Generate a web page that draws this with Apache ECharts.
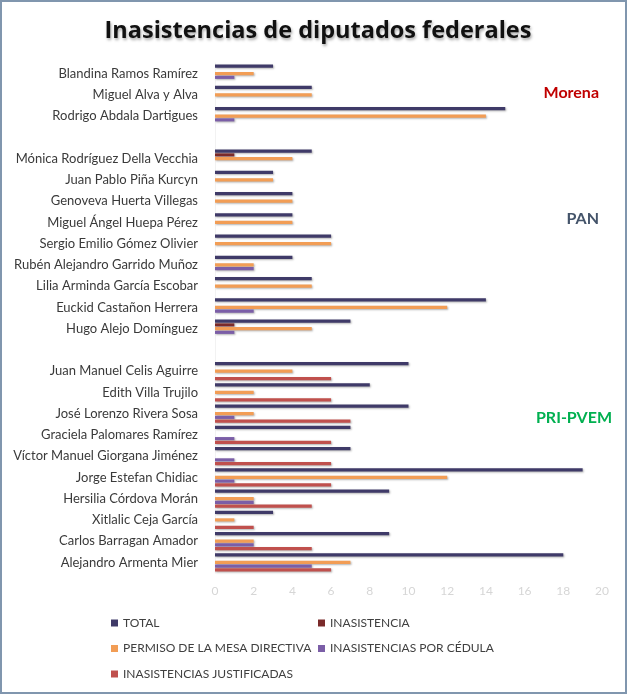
<!DOCTYPE html>
<html><head><meta charset="utf-8">
<script src="https://cdn.jsdelivr.net/npm/echarts@6/dist/echarts.min.js"></script>
<style>html,body{margin:0;padding:0;background:#fff}#c{width:640px;height:696px}</style>
</head><body><div id="c"></div>
<script>
const categories = [
  'Blandina Ramos Ramírez','Miguel Alva y Alva','Rodrigo Abdala Dartigues','',
  'Mónica Rodríguez Della Vecchia','Juan Pablo Piña Kurcyn','Genoveva Huerta Villegas','Miguel Ángel Huepa Pérez',
  'Sergio Emilio Gómez Olivier','Rubén Alejandro Garrido Muñoz','Lilia Arminda García Escobar','Euckid Castañon Herrera',
  'Hugo Alejo Domínguez',' ',
  'Juan Manuel Celis Aguirre','Edith Villa Trujilo','José Lorenzo Rivera Sosa','Graciela Palomares Ramírez',
  'Víctor Manuel Giorgana Jiménez','Jorge Estefan Chidiac','Hersilia Córdova Morán','Xitlalic Ceja García',
  'Carlos Barragan Amador','Alejandro Armenta Mier'
];
const total        = [3,5,15,null, 5,3,4,4,6,4,5,14,7,null, 10,8,10,7,7,19,9,3,9,18];
const inasistencia = [null,null,null,null, 1,null,null,null,null,null,null,null,1,null, null,null,null,null,null,null,null,null,null,null];
const permiso      = [2,5,14,null, 4,3,4,4,6,2,5,12,5,null, 4,2,2,null,null,12,2,1,2,7];
const cedula       = [1,null,1,null, null,null,null,null,null,2,null,2,1,null, null,null,1,1,1,1,2,null,2,5];
const justificadas = [null,null,null,null, null,null,null,null,null,null,null,null,null,null, 6,6,7,6,6,6,5,2,5,6];
const xTicks = [0,2,4,6,8,10,12,14,16,18,20];

const seriesNames = ['TOTAL','INASISTENCIA','PERMISO DE LA MESA DIRECTIVA','INASISTENCIAS POR CÉDULA','INASISTENCIAS JUSTIFICADAS'];
const seriesData = [total, inasistencia, permiso, cedula, justificadas];
const colors = ['#3f3a68','#7a2a2a','#f29d55','#7b5ea7','#c0504d'];

const chart = echarts.init(document.getElementById('c'));
const legendText = {color:'#404040', fontSize:12, fontFamily:'Lato'};
chart.setOption({
  animation:false,
  title:{
    text:'Inasistencias de diputados federales', left:313, top:14, textAlign:'center',
    textStyle:{fontFamily:'Open Sans', fontWeight:'bold', fontSize:23.5, color:'#111',
      textShadowColor:'rgba(0,0,0,0.35)', textShadowBlur:3, textShadowOffsetX:1, textShadowOffsetY:2}
  },
  grid:{left:215, right:38, top:63, height:510, containLabel:false},
  xAxis:{type:'value', min:xTicks[0], max:xTicks[xTicks.length-1], interval:2,
    axisLine:{show:false}, axisTick:{show:false}, splitLine:{show:false},
    axisLabel:{color:'#d6d6d6', fontSize:12, fontFamily:'Lato', margin:12}},
  yAxis:{type:'category', data:categories, inverse:true,
    axisLine:{show:true, lineStyle:{color:'#f2f2f2'}}, axisTick:{show:false},
    axisLabel:{color:'#3a3a3a', fontSize:13, fontFamily:'Lato', margin:17}},
  legend:[
    {left:106, top:612, orient:'vertical', itemGap:13.5, itemWidth:7, itemHeight:7, icon:'rect',
     data:[seriesNames[0],seriesNames[2],seriesNames[4]], textStyle:legendText},
    {left:313, top:612, orient:'vertical', itemGap:13.5, itemWidth:7, itemHeight:7, icon:'rect',
     data:[seriesNames[1],seriesNames[3]], textStyle:legendText}
  ],
  series: seriesNames.map((n,i)=>({
    name:n, type:'bar', data:seriesData[i], barGap:'20%', barCategoryGap:'15%',
    itemStyle:{color:colors[i], shadowColor:'rgba(0,0,0,0.3)', shadowBlur:2, shadowOffsetX:1, shadowOffsetY:1}
  })),
  graphic:[
    {type:'rect', shape:{x:1, y:1, width:625, height:692}, style:{fill:'none', stroke:'#8096ae', lineWidth:2}, silent:true},
    {type:'text', x:599, y:93, style:{text:'Morena', fill:'#c00000', font:'bold 16px Lato', textAlign:'right', textVerticalAlign:'middle'}},
    {type:'text', x:599, y:219, style:{text:'PAN', fill:'#44546a', font:'bold 16px Lato', textAlign:'right', textVerticalAlign:'middle'}},
    {type:'text', x:612, y:418, style:{text:'PRI-PVEM', fill:'#00b050', font:'bold 16px Lato', textAlign:'right', textVerticalAlign:'middle'}}
  ]
});
</script></body></html>
